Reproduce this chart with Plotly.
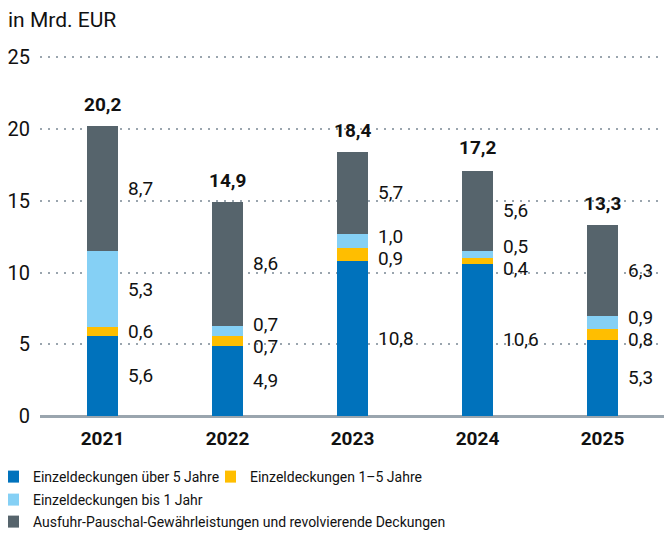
import plotly.graph_objects as go

years = ["2021", "2022", "2023", "2024", "2025"]
ueber5 = [5.6, 4.9, 10.8, 10.6, 5.3]
j1_5 = [0.6, 0.7, 0.9, 0.4, 0.8]
bis1 = [5.3, 0.7, 1.0, 0.5, 0.9]
ausfuhr = [8.7, 8.6, 5.7, 5.6, 6.3]
totals = [20.2, 14.9, 18.4, 17.2, 13.3]
series_names = [
    "Einzeldeckungen über 5 Jahre",
    "Einzeldeckungen 1–5 Jahre",
    "Einzeldeckungen bis 1 Jahr",
    "Ausfuhr-Pauschal-Gewährleistungen und revolvierende Deckungen",
]
y_ticks = [0, 5, 10, 15, 20, 25]

FONT = "Roboto"
colors = ["#0072BC", "#FFBE00", "#85D0F5", "#56646C"]
series = [ueber5, j1_5, bis1, ausfuhr]
legend_ids = ["legend", "legend2", "legend3", "legend4"]


def de(v):
    return f"{v:.1f}".replace(".", ",")


fig = go.Figure()
for name, vals, col, lg in zip(series_names, series, colors, legend_ids):
    fig.add_trace(go.Bar(x=years, y=vals, name=name, marker_color=col,
                         marker_line_width=0, width=0.25, legend=lg))

annotations = []
MINSEP = 1.55
for i, yr in enumerate(years):
    vals = [s[i] for s in series]
    base = 0.0
    centers = []
    for v in vals:
        centers.append(base + v / 2)
        base += v
    # spread overlapping labels
    for _ in range(5):
        for k in range(len(centers) - 1):
            if centers[k + 1] - centers[k] < MINSEP:
                mid = (centers[k] + centers[k + 1]) / 2
                centers[k] = mid - MINSEP / 2
                centers[k + 1] = mid + MINSEP / 2
    for v, c in zip(vals, centers):
        annotations.append(dict(x=i, y=c, xref="x", yref="y", text=de(v),
                                showarrow=False, xanchor="left", xshift=23,
                                font=dict(family=FONT, size=19, color="#111")))
    annotations.append(dict(x=i, y=totals[i], xref="x", yref="y",
                            text="<b>" + de(totals[i]) + "</b>", showarrow=False,
                            yanchor="bottom", yshift=8,
                            font=dict(family=FONT, size=19, color="#111")))

leg_common = dict(xref="container", yref="container", xanchor="left", yanchor="middle",
                  font=dict(family=FONT, size=14, color="#111"), bgcolor="rgba(0,0,0,0)",
                  itemclick=False, itemdoubleclick=False, orientation="h", indentation=-15)
H = 535
W = 672
fig.update_layout(
    width=W, height=H,
    margin=dict(l=32, r=15, t=48, b=127),
    paper_bgcolor="white", plot_bgcolor="white",
    barmode="stack",
    title=dict(text="in Mrd. EUR", x=0, xref="container", xanchor="left",
               y=1 - 4 / H, yref="container", yanchor="top",
               font=dict(family=FONT, size=21, color="#111")),
    font=dict(family=FONT, size=18, color="#111"),
    xaxis=dict(type="category", range=[-0.5, 4.5], showgrid=False, showline=False,
               ticks="", ticklabelstandoff=9, automargin=False,
               tickfont=dict(family=FONT, size=19, color="#111", weight="bold")),
    yaxis=dict(range=[0, 25.1], tickvals=y_ticks, showgrid=True, gridcolor="#9AA5AE",
               gridwidth=2, griddash="2px,6px", zeroline=True, zerolinecolor="#9AA5AE",
               zerolinewidth=3, showline=False, ticks="", ticklabelstandoff=9,
               automargin=False,
               tickfont=dict(family=FONT, size=20, color="#111")),
    annotations=annotations,
    showlegend=True,
    legend=dict(x=0, y=1 - 469 / H, **leg_common),
    legend2=dict(x=217 / W, y=1 - 469 / H, **leg_common),
    legend3=dict(x=0, y=1 - 492 / H, **leg_common),
    legend4=dict(x=0, y=1 - 514 / H, **leg_common),
)

fig.write_html("out.html")
